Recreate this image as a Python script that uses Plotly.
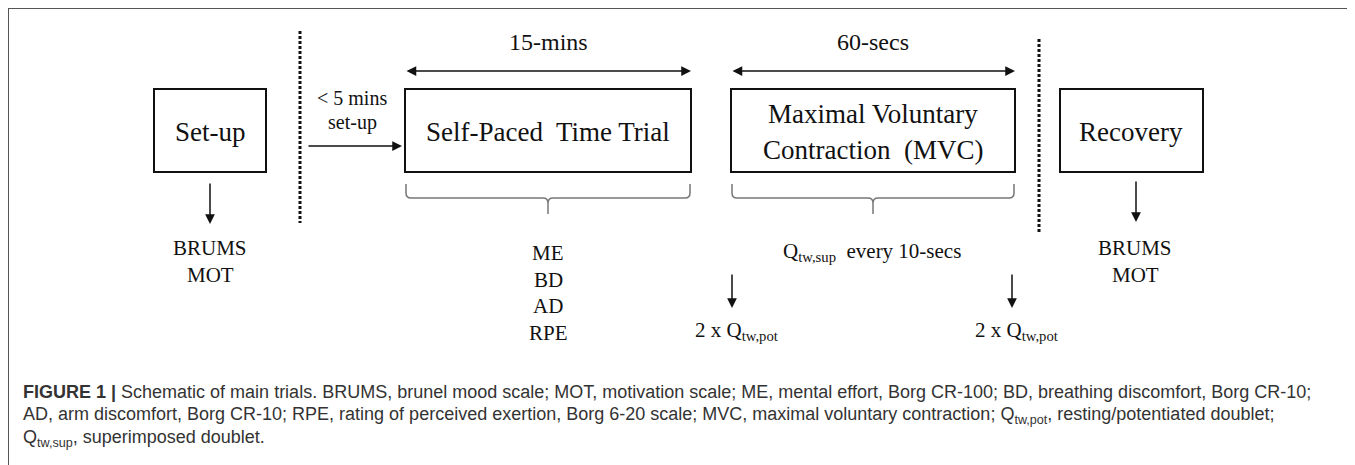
import plotly.graph_objects as go

W, H = 1355, 465
PAGE_MARGIN = 8  # default body margin of the html page

# ---- content (text) ----
stage_labels = ["Set-up", "Self-Paced  Time Trial", "Maximal Voluntary", "Contraction  (MVC)", "Recovery"]
durations = ["15-mins", "60-secs"]
transition_label = ["&lt; 5 mins", "set-up"]
pre_measures = ["BRUMS", "MOT"]
tt_measures = ["ME", "BD", "AD", "RPE"]
post_measures = ["BRUMS", "MOT"]
mvc_measure = "Q<sub>tw,sup</sub>  every 10-secs"
twitch_label = "2 x Q<sub>tw,pot</sub>"
caption_lines = [
    "<b>FIGURE 1 |</b> Schematic of main trials. BRUMS, brunel mood scale; MOT, motivation scale; ME, mental effort, Borg CR-100; BD, breathing discomfort, Borg CR-10;",
    "AD, arm discomfort, Borg CR-10; RPE, rating of perceived exertion, Borg 6-20 scale; MVC, maximal voluntary contraction; Q<sub>tw,pot</sub>, resting/potentiated doublet;",
    "Q<sub>tw,sup</sub>, superimposed doublet.",
]

# ---- layout geometry (pixel space of the page) ----
box_x = [(154, 266), (405, 691), (731, 1015), (1060, 1203)]
box_y = (89, 172)
INK = "#111111"
SERIF = "Liberation Serif, Times New Roman, serif"
SANS = "Liberation Sans, Arial, sans-serif"

fig = go.Figure()
shapes = []
ann = []

# outer frame lines
shapes.append(dict(type="line", x0=8, y0=8, x1=W, y1=8, line=dict(color="#555555", width=2)))
shapes.append(dict(type="line", x0=8, y0=8, x1=8, y1=H, line=dict(color="#555555", width=2)))

# boxes
for (x0, x1) in box_x:
    shapes.append(dict(type="rect", x0=x0, x1=x1, y0=box_y[0], y1=box_y[1],
                       line=dict(color=INK, width=2), fillcolor="rgba(0,0,0,0)"))

# dotted separators
shapes.append(dict(type="line", x0=300, x1=300, y0=31, y1=223, line=dict(color=INK, width=3, dash="3px,2px")))
shapes.append(dict(type="line", x0=1039, x1=1039, y0=39, y1=232, line=dict(color=INK, width=3, dash="3px,2px")))

# brackets
def bracket(x0, x1, yt=184, yb=198, ytick=214, r=5):
    xm = (x0 + x1) / 2
    return (f"M {x0},{yt} L {x0},{yb-r} Q {x0},{yb} {x0+r},{yb} L {xm-r},{yb} Q {xm},{yb} {xm},{yb+r} "
            f"L {xm},{ytick} M {xm},{yb+r} Q {xm},{yb} {xm+r},{yb} L {x1-r},{yb} Q {x1},{yb} {x1},{yb-r} L {x1},{yt}")

for (x0, x1) in box_x[1:3]:
    shapes.append(dict(type="path", path=bracket(x0 + 1, x1 - 1), line=dict(color="#777777", width=1.5)))

def txt(x, y, s, size, font=SERIF, color=INK, xanchor="center"):
    ann.append(dict(x=x, y=y, text=s, showarrow=False, xanchor=xanchor, yanchor="middle",
                    font=dict(family=font, size=size, color=color)))

def arrow(x, y, ax, ay, both=False):
    ann.append(dict(x=x, y=y, ax=ax, ay=ay, axref="x", ayref="y", xref="x", yref="y", text="",
                    showarrow=True, arrowhead=2, arrowsize=1.3, arrowwidth=1.5, arrowcolor=INK,
                    arrowside="end+start" if both else "end", standoff=0, startstandoff=0))

# box labels
txt(210, 132, stage_labels[0], 27)
txt(548, 132, stage_labels[1], 27)
txt(873, 114, stage_labels[2], 27)
txt(873, 150, stage_labels[3], 27)
txt(1131, 132, stage_labels[4], 27)

# durations + double arrows
txt(548, 42, durations[0], 24)
txt(873, 42, durations[1], 24)
arrow(691, 71, 405, 71, both=True)
arrow(1015, 71, 731, 71, both=True)

# transition
txt(352, 98, transition_label[0], 20)
txt(352, 122, transition_label[1], 20)
arrow(402, 146, 307, 146)

# down arrows from set-up and recovery
arrow(210, 224, 210, 182)
arrow(1136, 222, 1136, 180)

# measures
for i, m in enumerate(pre_measures):
    txt(210, 248 + 27 * i, m, 21)
for i, m in enumerate(post_measures):
    txt(1135, 248 + 27 * i, m, 21)
for i, m in enumerate(tt_measures):
    txt(548, 253 + 26.7 * i, m, 21)
txt(872, 252, mvc_measure, 21)

# MVC twitch arrows
arrow(732, 308, 732, 273)
arrow(1012, 308, 1012, 273)
txt(693, 331, twitch_label, 21, xanchor="left")
txt(973, 331, twitch_label, 21, xanchor="left")

# caption
for i, line in enumerate(caption_lines):
    txt(21, 392 + 23 * i, line, 18, font=SANS, color="#333333", xanchor="left")

fig.update_layout(
    width=W - PAGE_MARGIN, height=H - PAGE_MARGIN, margin=dict(l=0, r=0, t=0, b=0),
    paper_bgcolor="white", plot_bgcolor="white",
    xaxis=dict(range=[PAGE_MARGIN, W], visible=False, fixedrange=True),
    yaxis=dict(range=[H, PAGE_MARGIN], visible=False, fixedrange=True),
    shapes=shapes, annotations=ann, showlegend=False,
)
fig.write_html("out.html")
